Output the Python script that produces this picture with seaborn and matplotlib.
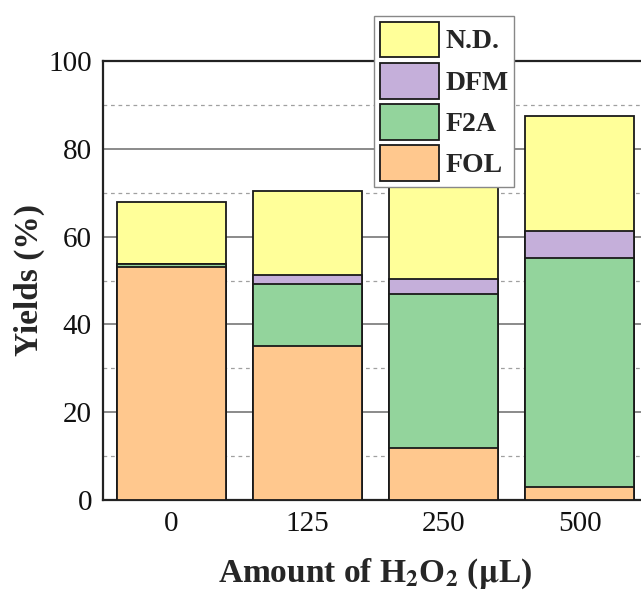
import matplotlib.pyplot as plt
import pandas as pd
import seaborn as sns
from matplotlib.patches import Patch
from matplotlib.ticker import MultipleLocator

# values (%)
amounts = ["0", "125", "250", "500"]
fol = [53.0, 35.0, 11.8, 2.9]
f2a = [0.7, 14.1, 35.1, 52.2]
dfm = [0.0, 2.1, 3.4, 6.2]
nd = [14.1, 19.2, 22.2, 26.2]

layers = ["FOL", "F2A", "DFM", "N.D."]
colors = {"FOL": "#FFC88E", "F2A": "#93D49C", "DFM": "#C5AFDA", "N.D.": "#FFFF99"}

df = pd.DataFrame({"amount": amounts, "FOL": fol, "F2A": f2a, "DFM": dfm, "N.D.": nd})
cum = df[layers].cumsum(axis=1)
cum["amount"] = df["amount"]

sns.set_theme(style="white")
plt.rcParams["font.family"] = ["Liberation Serif", "DejaVu Serif"]
plt.rcParams["mathtext.fontset"] = "stix"

fig = plt.figure(figsize=(6.41, 5.93), dpi=100)
ax = fig.add_axes([103 / 641, 1 - 500 / 593, 545 / 641, 439 / 593])

# draw from the top layer down so each shorter bar covers the one behind it
for name in reversed(layers):
    sns.barplot(data=cum, x="amount", y=name, color=colors[name], width=0.8,
                edgecolor="#1a1a1a", linewidth=1.3, saturation=1, ax=ax, zorder=3)

ax.set_xlim(-0.5, 3.5)
ax.set_ylim(0, 100)
ax.yaxis.set_major_locator(MultipleLocator(20))
ax.yaxis.set_minor_locator(MultipleLocator(10))
ax.grid(which="major", axis="y", color="#8a8a8a", linewidth=1.4, zorder=0)
ax.grid(which="minor", axis="y", color="#a0a0a0", linewidth=0.9, linestyle=(0, (3, 3)), zorder=0)
ax.set_axisbelow(True)

for side in ["left", "bottom", "top"]:
    ax.spines[side].set_color("#222222")
    ax.spines[side].set_linewidth(1.6)
ax.spines["right"].set_visible(False)

ax.tick_params(which="both", length=0, labelsize=21, pad=8, colors="#111111")
ax.set_xlabel(r"Amount of H$_\mathbf{2}$O$_\mathbf{2}$ ($\mathbf{\mu}$L)",
              fontsize=24, fontweight="bold", labelpad=14)
ax.set_ylabel("Yields (%)", fontsize=24, fontweight="bold", labelpad=2)

handles = [Patch(facecolor=colors[n], edgecolor="#1a1a1a", linewidth=1.3, label=n)
           for n in reversed(layers)]
leg = ax.legend(handles=handles, loc="upper left", bbox_to_anchor=(374 / 641, 1 - 16 / 593),
                bbox_transform=fig.transFigure, borderaxespad=0, frameon=True,
                fancybox=False, edgecolor="#888888", framealpha=1,
                handlelength=2.15, handleheight=1.6, labelspacing=0.2,
                handletextpad=0.22, borderpad=0.2, prop={"weight": "bold", "size": 20})
leg.set_zorder(10)

fig.savefig("out.png", dpi=100)
